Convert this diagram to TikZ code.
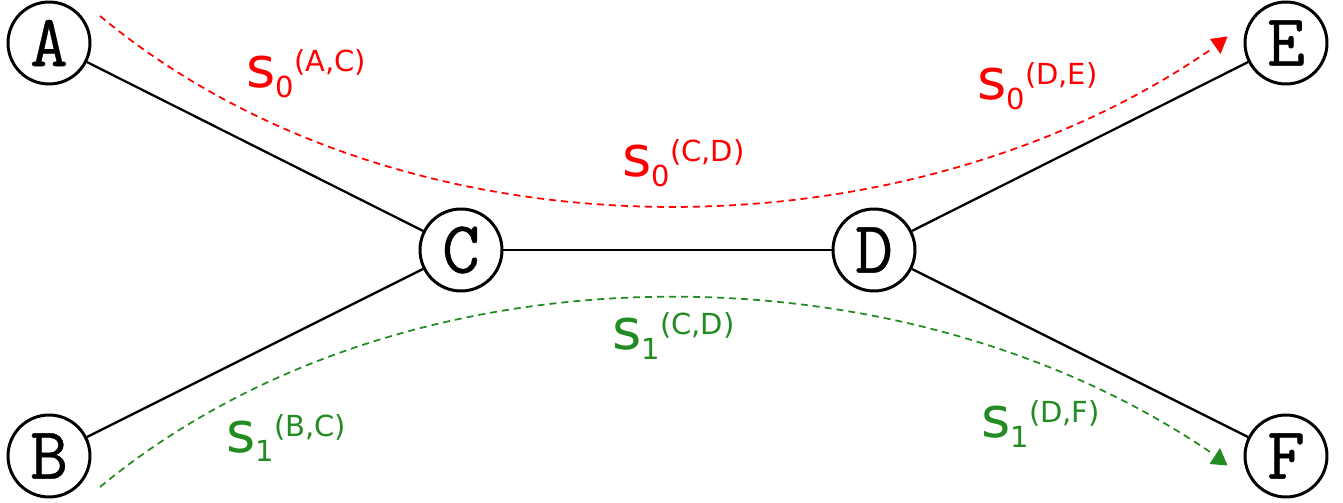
\documentclass[tikz,border=0pt]{standalone}
\usepackage{fontspec}
\newfontfamily\labfont{DejaVu Sans}
\newfontfamily\nodefont{Latin Modern Mono}[FakeBold=0.6]
\definecolor{myred}{RGB}{255,0,0}
\definecolor{mygreen}{RGB}{34,139,34}
\newcommand{\lab}[2]{{\labfont\fontsize{32}{32}\selectfont s}{\labfont\fontsize{16.5}{16.5}\selectfont\raisebox{-0.2cm}{#1}\raisebox{0.32cm}{(#2)}}}
\tikzset{
  vert/.style={circle, draw, line width=1.7pt, minimum size=1.64cm, inner sep=0pt,
    font=\nodefont\fontsize{42}{42}\selectfont},
  edge/.style={line width=1.3pt},
  path/.style={dashed, line width=1pt, dash pattern=on 0.14cm off 0.1cm},
  lbl/.style={anchor=base west, inner sep=0pt},
}
\begin{document}
\begin{tikzpicture}[x=0.02cm, y=-0.02cm]
\useasboundingbox (0,0) rectangle (1343,503);
\node[vert] (A) at (49,43) {A};
\node[vert] (B) at (49,456) {B};
\node[vert] (C) at (461,250) {C};
\node[vert] (D) at (874,250) {D};
\node[vert] (E) at (1286,43) {E};
\node[vert] (F) at (1286,456) {F};
\draw[edge] (A) -- (C);
\draw[edge] (B) -- (C);
\draw[edge] (C) -- (D);
\draw[edge] (D) -- (E);
\draw[edge] (D) -- (F);
% red path
\coordinate (r0) at (100,16);
\coordinate (r1) at (1213,48);
\draw[path, myred] (r0) .. controls (400,265) and (900,265) .. (r1);
\fill[myred] (1210,39) -- (1227.5,36.5) -- (1220.5,54) -- cycle;
% green path
\coordinate (g0) at (100,487);
\coordinate (g1) at (1213,454);
\draw[path, mygreen] (g0) .. controls (400,239) and (900,239) .. (g1);
\fill[mygreen] (1209.5,464) -- (1227.5,465.5) -- (1220,448) -- cycle;
% labels
\node[lbl, text=myred] (l1) at (246,88) {\lab{0}{A,C}};
\node[lbl, text=myred] (l2) at (622,177) {\lab{0}{C,D}};
\node[lbl, text=myred] (l3) at (977,100) {\lab{0}{D,E}};
\node[lbl, text=mygreen] (l4) at (226,452) {\lab{1}{B,C}};
\node[lbl, text=mygreen] (l5) at (612,350) {\lab{1}{C,D}};
\node[lbl, text=mygreen] (l6) at (981,438) {\lab{1}{D,F}};
\end{tikzpicture}
\end{document}
